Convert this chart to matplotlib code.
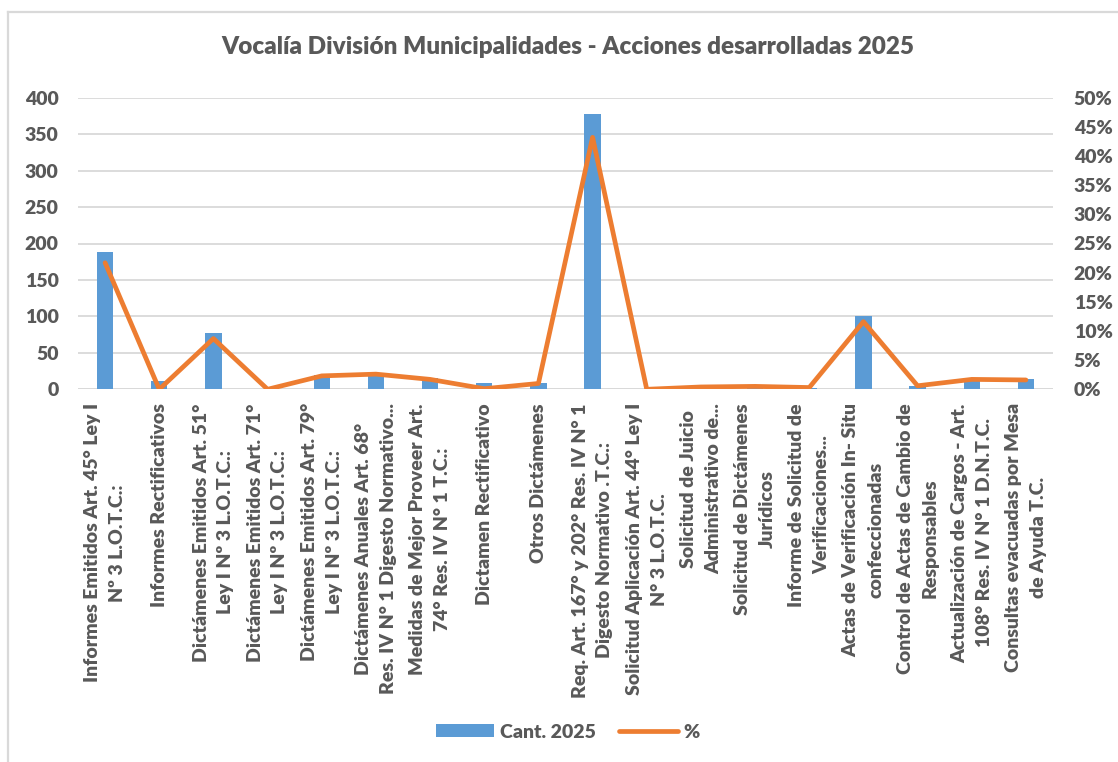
import matplotlib
matplotlib.use("Agg")
import matplotlib.pyplot as plt
from matplotlib.lines import Line2D
from matplotlib.patches import Patch
from matplotlib.ticker import FuncFormatter, MultipleLocator

categories = [
    "Informes Emitidos Art. 45° Ley I\nNº 3 L.O.T.C.:",
    "Informes Rectificativos",
    "Dictámenes Emitidos Art. 51°\nLey I Nº 3 L.O.T.C.:",
    "Dictámenes Emitidos Art. 71°\nLey I Nº 3 L.O.T.C.:",
    "Dictámenes Emitidos Art. 79°\nLey I Nº 3 L.O.T.C.:",
    "Dictámenes Anuales Art. 68°\nRes. IV N° 1 Digesto Normativo...",
    "Medidas de Mejor Proveer Art.\n74° Res. IV N° 1 T.C.:",
    "Dictamen Rectificativo",
    "Otros Dictámenes",
    "Req. Art. 167° y 202° Res. IV N° 1\nDigesto Normativo .T.C.:",
    "Solicitud Aplicación Art. 44° Ley I\nN° 3 L.O.T.C.",
    "Solicitud de Juicio\nAdministrativo de...",
    "Solicitud de Dictámenes\nJurídicos",
    "Informe de Solicitud de\nVerificaciones...",
    "Actas de Verificación In- Situ\nconfeccionadas",
    "Control de Actas de Cambio de\nResponsables",
    "Actualización de Cargos - Art.\n108° Res. IV N° 1 D.N.T.C.",
    "Consultas evacuadas por Mesa\nde Ayuda T.C.",
]
cant_2025 = [189, 11, 77, 0, 20, 23, 15, 8, 8, 378, 0, 3, 4, 2, 101, 4, 15, 14]
pct = [0.217, 0.0, 0.087, 0.0, 0.023, 0.026, 0.017, 0.001, 0.010, 0.432,
       0.0, 0.004, 0.005, 0.003, 0.116, 0.006, 0.017, 0.016]

title = "Vocalía División Municipalidades - Acciones desarrolladas 2025"

GRAY = "#595959"
BLUE = "#5b9bd5"
ORANGE = "#ed7d31"
GRID = "#d9d9d9"
FONT = "Lato"
WEIGHT = "heavy"
FS = 14

W, H = 1118, 762
fig = plt.figure(figsize=(W / 100, H / 100), dpi=100)
fig.patch.set_facecolor("white")

# chart-area border (left and top visible)
fig.add_artist(Line2D([8 / W, 8 / W], [0, 1 - 12 / H], transform=fig.transFigure,
                      color=GRID, lw=1.6))
fig.add_artist(Line2D([8 / W, 1], [1 - 12 / H, 1 - 12 / H], transform=fig.transFigure,
                      color=GRID, lw=1.6))

left, right, top, bottom = 78, 1053, 97.7, 389.3
ax = fig.add_axes([left / W, 1 - bottom / H, (right - left) / W, (bottom - top) / H])
ax2 = ax.twinx()

x = list(range(len(categories)))
ax.bar(x, cant_2025, width=0.30, color=BLUE, zorder=2)
ax2.plot(x, pct, color=ORANGE, lw=3.4, solid_capstyle="round",
         solid_joinstyle="round", zorder=3)

ax.set_xlim(-0.5, len(categories) - 0.5)
ax.set_ylim(0, 400)
ax.yaxis.set_major_locator(MultipleLocator(50))
ax2.set_ylim(0, 0.5)
ax2.yaxis.set_major_locator(MultipleLocator(0.05))
ax2.yaxis.set_major_formatter(FuncFormatter(lambda v, p: f"{round(v * 100):d}%"))

ax.grid(axis="y", color=GRID, lw=1.3, zorder=0)
ax.set_axisbelow(True)
for a in (ax, ax2):
    for s in a.spines.values():
        s.set_visible(False)
    a.tick_params(length=0)
ax.axhline(0, color=GRID, lw=1.3, zorder=1)

ax.set_xticks(x)
ax.set_xticklabels(categories, rotation=90, ha="center", va="top",
                   multialignment="center", fontsize=FS, fontweight=WEIGHT,
                   color=GRAY, family=FONT, linespacing=1.55)
ax.tick_params(axis="x", pad=10)
ax.tick_params(axis="y", pad=14)
ax2.tick_params(axis="y", pad=15)
for lab in ax.get_yticklabels() + ax2.get_yticklabels():
    lab.set_fontsize(FS)
    lab.set_fontweight(WEIGHT)
    lab.set_color(GRAY)
    lab.set_family(FONT)

fig.text(568 / W, 1 - 47 / H, title, ha="center", va="center", fontsize=17.5,
         fontweight=WEIGHT, color=GRAY, family=FONT)

handles = [Patch(facecolor=BLUE, edgecolor="none"),
           Line2D([0], [0], color=ORANGE, lw=3.4, solid_capstyle="round")]
leg = fig.legend(handles, ["Cant. 2025", "%"], loc="center",
                 bbox_to_anchor=(568 / W, 1 - 732 / H), ncol=2, frameon=False,
                 handlelength=3.0, handleheight=0.6, columnspacing=1.2,
                 handletextpad=0.3,
                 prop={"family": FONT, "weight": WEIGHT, "size": FS})
for t in leg.get_texts():
    t.set_color(GRAY)

fig.savefig("out.png", dpi=100, facecolor="white")
